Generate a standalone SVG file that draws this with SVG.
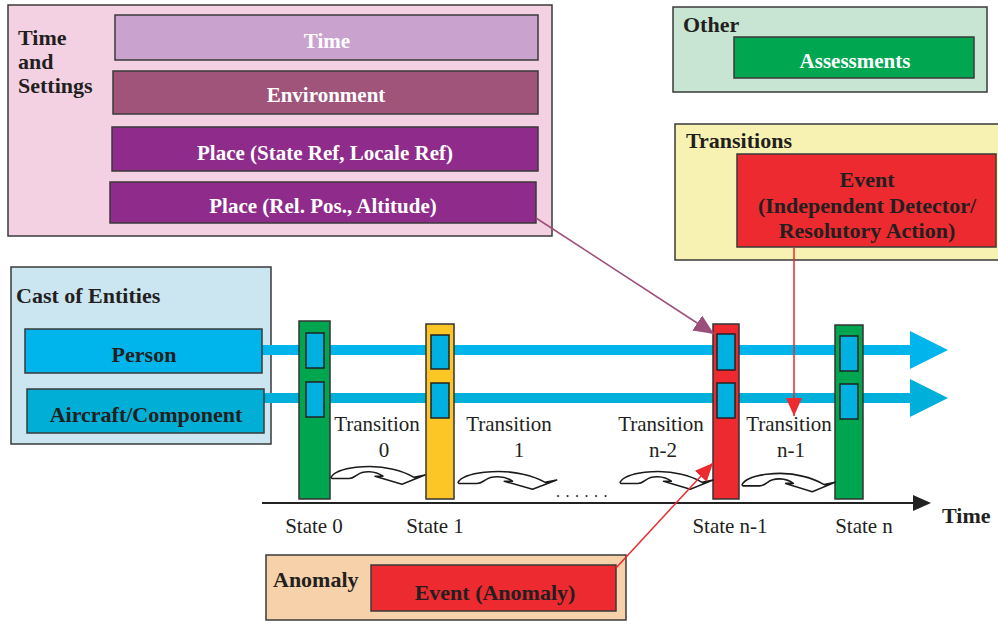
<svg xmlns="http://www.w3.org/2000/svg" width="998" height="624" viewBox="0 0 998 624">
<style>
.box{stroke:#3a3a3a;stroke-width:1.5}
.hd{font-family:"Liberation Serif","Times New Roman",serif;font-weight:bold;font-size:22px;fill:#231f20}
.bw{font-family:"Liberation Serif","Times New Roman",serif;font-weight:bold;font-size:21px;fill:#fff;text-anchor:middle}
.bd{font-family:"Liberation Serif","Times New Roman",serif;font-weight:bold;font-size:22px;fill:#231f20;text-anchor:middle}
.rg{font-family:"Liberation Serif","Times New Roman",serif;font-size:21px;fill:#231f20;text-anchor:middle}
.sq{fill:#00b0e0;stroke:#222;stroke-width:1.5}
.bar{stroke:#333;stroke-width:1.5}
.curve{fill:#fff;stroke:#1a1a1a;stroke-width:1.4;stroke-linejoin:round}
</style>
<defs>
<marker id="mPurple" markerUnits="userSpaceOnUse" markerWidth="22" markerHeight="18" refX="20" refY="9" orient="auto"><path d="M0,0 L20,9 L0,18 Z" fill="#9c4e7a"/></marker>
<marker id="mRed" markerUnits="userSpaceOnUse" markerWidth="20" markerHeight="16" refX="18" refY="8" orient="auto"><path d="M0,0 L18,8 L0,16 Z" fill="#ec2a2f"/></marker>
<path id="cv" d="M0,9 C6,0 40,-3 62,2 C72,4 79,7 83,9 L94,7 L71,15 L44,8 L52,8 C44,3 32,3 26,7 C24,8 22,10 18,10 L1,10 Z"/>
</defs>

<g id="time-settings">
<rect class="box" x="8" y="5" width="544" height="231" fill="#f3d1e3"/>
<text class="hd" x="18" y="45" font-size="21">Time</text>
<text class="hd" x="18" y="69" font-size="21">and</text>
<text class="hd" x="18" y="93" font-size="21">Settings</text>
</g>
<g id="time"><rect class="box" x="115" y="15" width="423" height="45" fill="#c9a2cd"/><text class="bw" x="327" y="48">Time</text></g>
<g id="environment"><rect class="box" x="113" y="71" width="425" height="43" fill="#a0547a"/><text class="bw" x="326" y="102">Environment</text></g>
<g id="place-state"><rect class="box" x="112" y="127" width="426" height="44" fill="#8e2b8b"/><text class="bw" x="325" y="160">Place (State Ref, Locale Ref)</text></g>
<g id="place-rel"><rect class="box" x="110" y="182" width="426" height="41" fill="#8e2b8b"/><text class="bw" x="323" y="213">Place (Rel. Pos., Altitude)</text></g>

<g id="other">
<rect class="box" x="673" y="7" width="314" height="85" fill="#c8e5d4"/>
<text class="hd" x="683" y="32">Other</text>
</g>
<g id="assessments"><rect class="box" x="734" y="37" width="240" height="41" fill="#00a650"/><text class="bw" x="855" y="68" font-size="22">Assessments</text></g>

<g id="transitions">
<rect class="box" x="675" y="124" width="330" height="136" fill="#f7f2b1"/>
<text class="hd" x="686" y="148">Transitions</text>
</g>
<g id="event-detector">
<rect class="box" x="737" y="154" width="259" height="93" fill="#ec2a2f"/>
<text class="bd" x="867" y="187">Event</text>
<text class="bd" x="867" y="213">(Independent Detector/</text>
<text class="bd" x="867" y="238">Resolutory Action)</text>
</g>

<g id="cast">
<rect class="box" x="11" y="267" width="260" height="177" fill="#cbe5f1"/>
<text class="hd" x="16" y="303">Cast of Entities</text>
</g>

<g id="lifelines">
<rect x="262" y="345" width="650" height="10" fill="#00b5ec"/>
<polygon points="910,331 948,350 910,369" fill="#00b5ec"/>
<rect x="264" y="393" width="648" height="10" fill="#00b0da"/>
<polygon points="910,379 948,398 910,417" fill="#00b0da"/>
</g>

<g id="person"><rect class="box" x="25" y="329" width="237" height="44" fill="#00b5ec"/><text class="bd" x="144" y="362">Person</text></g>
<g id="aircraft"><rect class="box" x="27" y="389" width="237" height="44" fill="#00aed6"/><text class="bd" x="146" y="422">Aircraft/Component</text></g>

<g id="timeline">
<line x1="262" y1="503" x2="914" y2="503" stroke="#222" stroke-width="2"/>
<polygon points="913,495 931,503 913,511" fill="#222"/>
<text class="hd" x="942" y="523">Time</text>
<text x="556" y="497" font-family="Liberation Serif,serif" font-size="16" fill="#231f20" letter-spacing="5.5">......</text>
</g>

<g id="state0">
<rect class="bar" x="299" y="321" width="31" height="178" fill="#00a54f"/>
<rect class="sq" x="306" y="333" width="18" height="35"/><rect class="sq" x="306" y="382" width="18" height="35"/>
<text class="rg" x="314" y="533">State 0</text>
</g>
<g id="state1">
<rect class="bar" x="426" y="324" width="28" height="175" fill="#fcc726"/>
<rect class="sq" x="431" y="335" width="18" height="34"/><rect class="sq" x="431" y="383" width="18" height="35"/>
<text class="rg" x="435" y="533">State 1</text>
</g>
<g id="state-n-1">
<rect class="bar" x="713" y="324" width="26" height="175" fill="#ec2a2f"/>
<rect class="sq" x="717" y="334" width="18" height="36"/><rect class="sq" x="717" y="383" width="18" height="35"/>
<text class="rg" x="730" y="533">State n-1</text>
</g>
<g id="state-n">
<rect class="bar" x="835" y="325" width="28" height="174" fill="#00a54f"/>
<rect class="sq" x="840" y="336" width="18" height="35"/><rect class="sq" x="840" y="384" width="18" height="35"/>
<text class="rg" x="864" y="533">State n</text>
</g>

<g id="transition0">
<use href="#cv" class="curve" transform="translate(331,467) scale(1,1.15)"/>
<text class="rg" x="377" y="431">Transition</text><text class="rg" x="384" y="457">0</text>
</g>
<g id="transition1">
<use href="#cv" class="curve" transform="translate(458,472) scale(1.05,1.15)"/>
<text class="rg" x="509" y="431">Transition</text><text class="rg" x="519" y="457">1</text>
</g>
<g id="transition-n-2">
<use href="#cv" class="curve" transform="translate(620,472) scale(0.99,1.15)"/>
<text class="rg" x="661" y="431">Transition</text><text class="rg" x="663" y="457">n-2</text>
</g>
<g id="transition-n-1">
<use href="#cv" class="curve" transform="translate(742,474) scale(0.99,1.18)"/>
<text class="rg" x="789" y="431">Transition</text><text class="rg" x="791" y="457">n-1</text>
</g>

<g id="anomaly">
<rect class="box" x="266" y="555" width="360" height="65" fill="#f6d1a9"/>
<text class="hd" x="273" y="587">Anomaly</text>
</g>
<g id="event-anomaly"><rect class="box" x="371" y="565" width="245" height="46" fill="#ec2a2f"/><text class="bd" x="495" y="600">Event (Anomaly)</text></g>

<g id="connectors" fill="none">
<line x1="536" y1="218" x2="714" y2="334" stroke="#9c4e7a" stroke-width="1.5" marker-end="url(#mPurple)"/>
<line x1="794" y1="247" x2="794" y2="416" stroke="#ec2a2f" stroke-width="1.5" marker-end="url(#mRed)"/>
<line x1="616" y1="568" x2="713" y2="463" stroke="#ec2a2f" stroke-width="1.5" marker-end="url(#mRed)"/>
</g>
</svg>
